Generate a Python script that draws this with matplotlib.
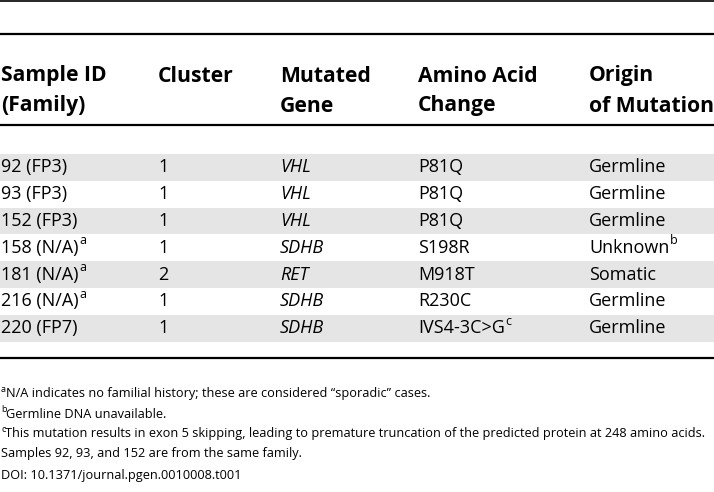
import matplotlib
matplotlib.use("Agg")
import matplotlib.pyplot as plt

# table content
headers = [("Sample ID", "(Family)"), ("Cluster", ""), ("Mutated", "Gene"),
           ("Amino Acid", "Change"), ("Origin", "of Mutation")]
sample_ids = ["92 (FP3)", "93 (FP3)", "152 (FP3)", "158 (N/A)", "181 (N/A)",
              "216 (N/A)", "220 (FP7)"]
sample_marks = ["", "", "", "a", "a", "a", ""]
clusters = ["1", "1", "1", "1", "2", "1", "1"]
genes = ["VHL", "VHL", "VHL", "SDHB", "RET", "SDHB", "SDHB"]
changes = ["P81Q", "P81Q", "P81Q", "S198R", "M918T", "R230C", "IVS4-3C>G"]
change_marks = ["", "", "", "", "", "", "c"]
origins = ["Germline", "Germline", "Germline", "Unknown", "Somatic",
           "Germline", "Germline"]
origin_marks = ["", "", "", "b", "", "", ""]
note_marks = ["a", "b", "c", "", ""]
note_texts = ["N/A indicates no familial history; these are considered \u201csporadic\u201d cases.",
              "Germline DNA unavailable.",
              "This mutation results in exon 5 skipping, leading to premature truncation of the predicted protein at 248 amino acids.",
              "Samples 92, 93, and 152 are from the same family.",
              "DOI: 10.1371/journal.pgen.0010008.t001"]

W, H = 714, 492
col_x = [1, 158, 280, 418, 589]
row_top = 154
row_h = 26.8
shade = "#e5e5e5"

main_font = ["Open Sans", "DejaVu Sans"]

fig = plt.figure(figsize=(W / 100, H / 100), dpi=100)
ax = fig.add_axes([0, 0, 1, 1])
ax.set_xlim(0, W)
ax.set_ylim(H, 0)
ax.axis("off")

# rules
for y, lw in [(1, 1.2), (34, 1.6), (125, 1.6), (358, 1.6)]:
    ax.axhline(y, color="black", lw=lw)

# header
for x, (l1, l2) in zip(col_x, headers):
    ax.text(x, 76, l1, fontsize=15.2, fontweight="bold", family=main_font,
            va="center", ha="left")
    if l2:
        ax.text(x, 106, l2, fontsize=15.2, fontweight="bold", family=main_font,
                va="center", ha="left")

fig.canvas.draw()
renderer = fig.canvas.get_renderer()


def put(x, y, s, mark="", style="normal"):
    t = ax.text(x, y, s, fontsize=13, family=main_font, style=style,
                va="center", ha="left")
    if mark:
        bb = t.get_window_extent(renderer)
        x1 = ax.transData.inverted().transform((bb.x1, bb.y0))[0]
        ax.text(x1 + 0.5, y - 7, mark, fontsize=9, family=main_font,
                va="center", ha="left")


for i in range(len(sample_ids)):
    top = row_top + i * row_h
    yc = top + row_h / 2
    if i % 2 == 0:
        ax.axhspan(top, top + row_h, color=shade, lw=0, zorder=0)
    put(col_x[0], yc, sample_ids[i], sample_marks[i])
    put(col_x[1], yc, clusters[i])
    put(col_x[2], yc, genes[i], style="italic")
    put(col_x[3], yc, changes[i], change_marks[i])
    put(col_x[4], yc, origins[i], origin_marks[i])

# footnotes
note_y = [394, 414, 434, 454, 475]
for y, mark, s in zip(note_y, note_marks, note_texts):
    x = 1
    if mark:
        m = ax.text(x, y - 4, mark, fontsize=6.5, family=main_font,
                    va="center", ha="left")
        bb = m.get_window_extent(renderer)
        x = ax.transData.inverted().transform((bb.x1, bb.y0))[0]
    ax.text(x, y, s, fontsize=9.15, family=main_font, va="center", ha="left")

fig.savefig("out.png", dpi=100)
